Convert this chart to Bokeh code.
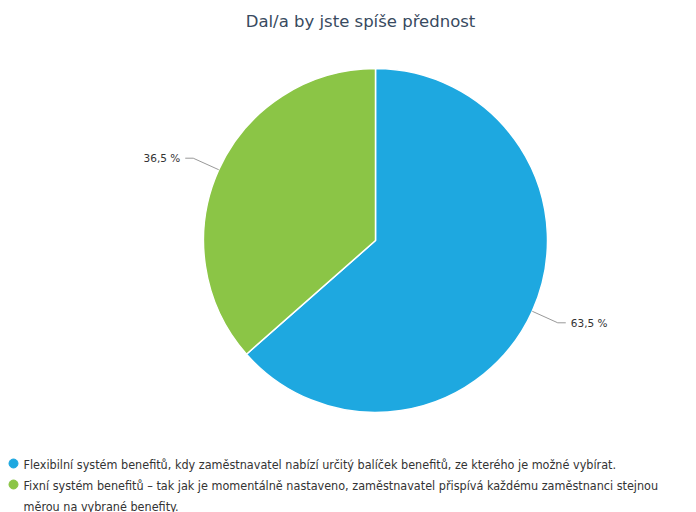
import math
from bokeh.plotting import figure
from bokeh.models import Range1d, ColumnDataSource
from bokeh.core.properties import value
from bokeh.embed import file_html
from bokeh.resources import INLINE

title = "Dal/a by jste spíše přednost"
categories = [
    "Flexibilní systém benefitů, kdy zaměstnavatel nabízí určitý balíček benefitů, ze kterého je možné vybírat.",
    "Fixní systém benefitů – tak jak je momentálně nastaveno, zaměstnavatel přispívá každému zaměstnanci stejnou\nměrou na vybrané benefity.",
]
shares = [63.5, 36.5]
labels = ["63,5 %", "36,5 %"]
colors = ["#1ea8e0", "#8bc546"]

W, H = 696, 512
cx, cy, R = 375, H - 240, 172

p = figure(width=W, height=H, output_backend="svg", toolbar_location=None,
           x_range=Range1d(0, W), y_range=Range1d(0, H), min_border=0)
p.axis.visible = False
p.grid.visible = False
p.outline_line_color = None
p.background_fill_color = "white"
p.border_fill_color = "white"

# wedges: start at 12 o'clock, clockwise
total = sum(shares)
starts, ends, mids = [], [], []
acc = 0.0
for s in shares:
    a_end = math.pi / 2 - 2 * math.pi * acc / total
    a_start = math.pi / 2 - 2 * math.pi * (acc + s) / total
    starts.append(a_start)
    ends.append(a_end)
    mids.append((a_start + a_end) / 2)
    acc += s

src = ColumnDataSource(dict(start=starts, end=ends, color=colors))
p.wedge(x=cx, y=cy, radius=R, start_angle="start", end_angle="end",
        fill_color="color", line_color="white", line_width=1.5, source=src)

# connectors and labels
for m, lab in zip(mids, labels):
    x0 = cx + R * math.cos(m)
    y0 = cy + R * math.sin(m)
    x1 = cx + (R + 28) * math.cos(m)
    y1 = cy + (R + 28) * math.sin(m)
    right = math.cos(m) > 0
    x2 = x1 + (8 if right else -8)
    p.line([x0, x1, x2], [y0, y1, y1], line_color="#999999", line_width=1)
    p.text([x2 + (5 if right else -5)], [y1], text=[lab],
           text_align="left" if right else "right", text_baseline="middle",
           text_font=value("DejaVu Sans"), text_font_size="10.5px", text_color="#333333")

# title
p.text([W / 2 + 12], [H - 21], text=[title], text_align="center", text_baseline="middle",
       text_font=value("DejaVu Sans"), text_font_size="16.5px", text_color="#384a60")

# legend
ly = [H - 463, H - 484]
p.scatter(x=[13] * 2, y=ly, size=9, color=colors, marker="circle")
p.text([23] * 2, [v + 7 for v in ly], text=categories, text_align="left", text_baseline="top",
       text_font=value("DejaVu Sans Condensed"), text_font_size="12.5px", text_color="#333333",
       text_line_height=1.4)

open("out.html", "w").write(file_html(p, INLINE))
